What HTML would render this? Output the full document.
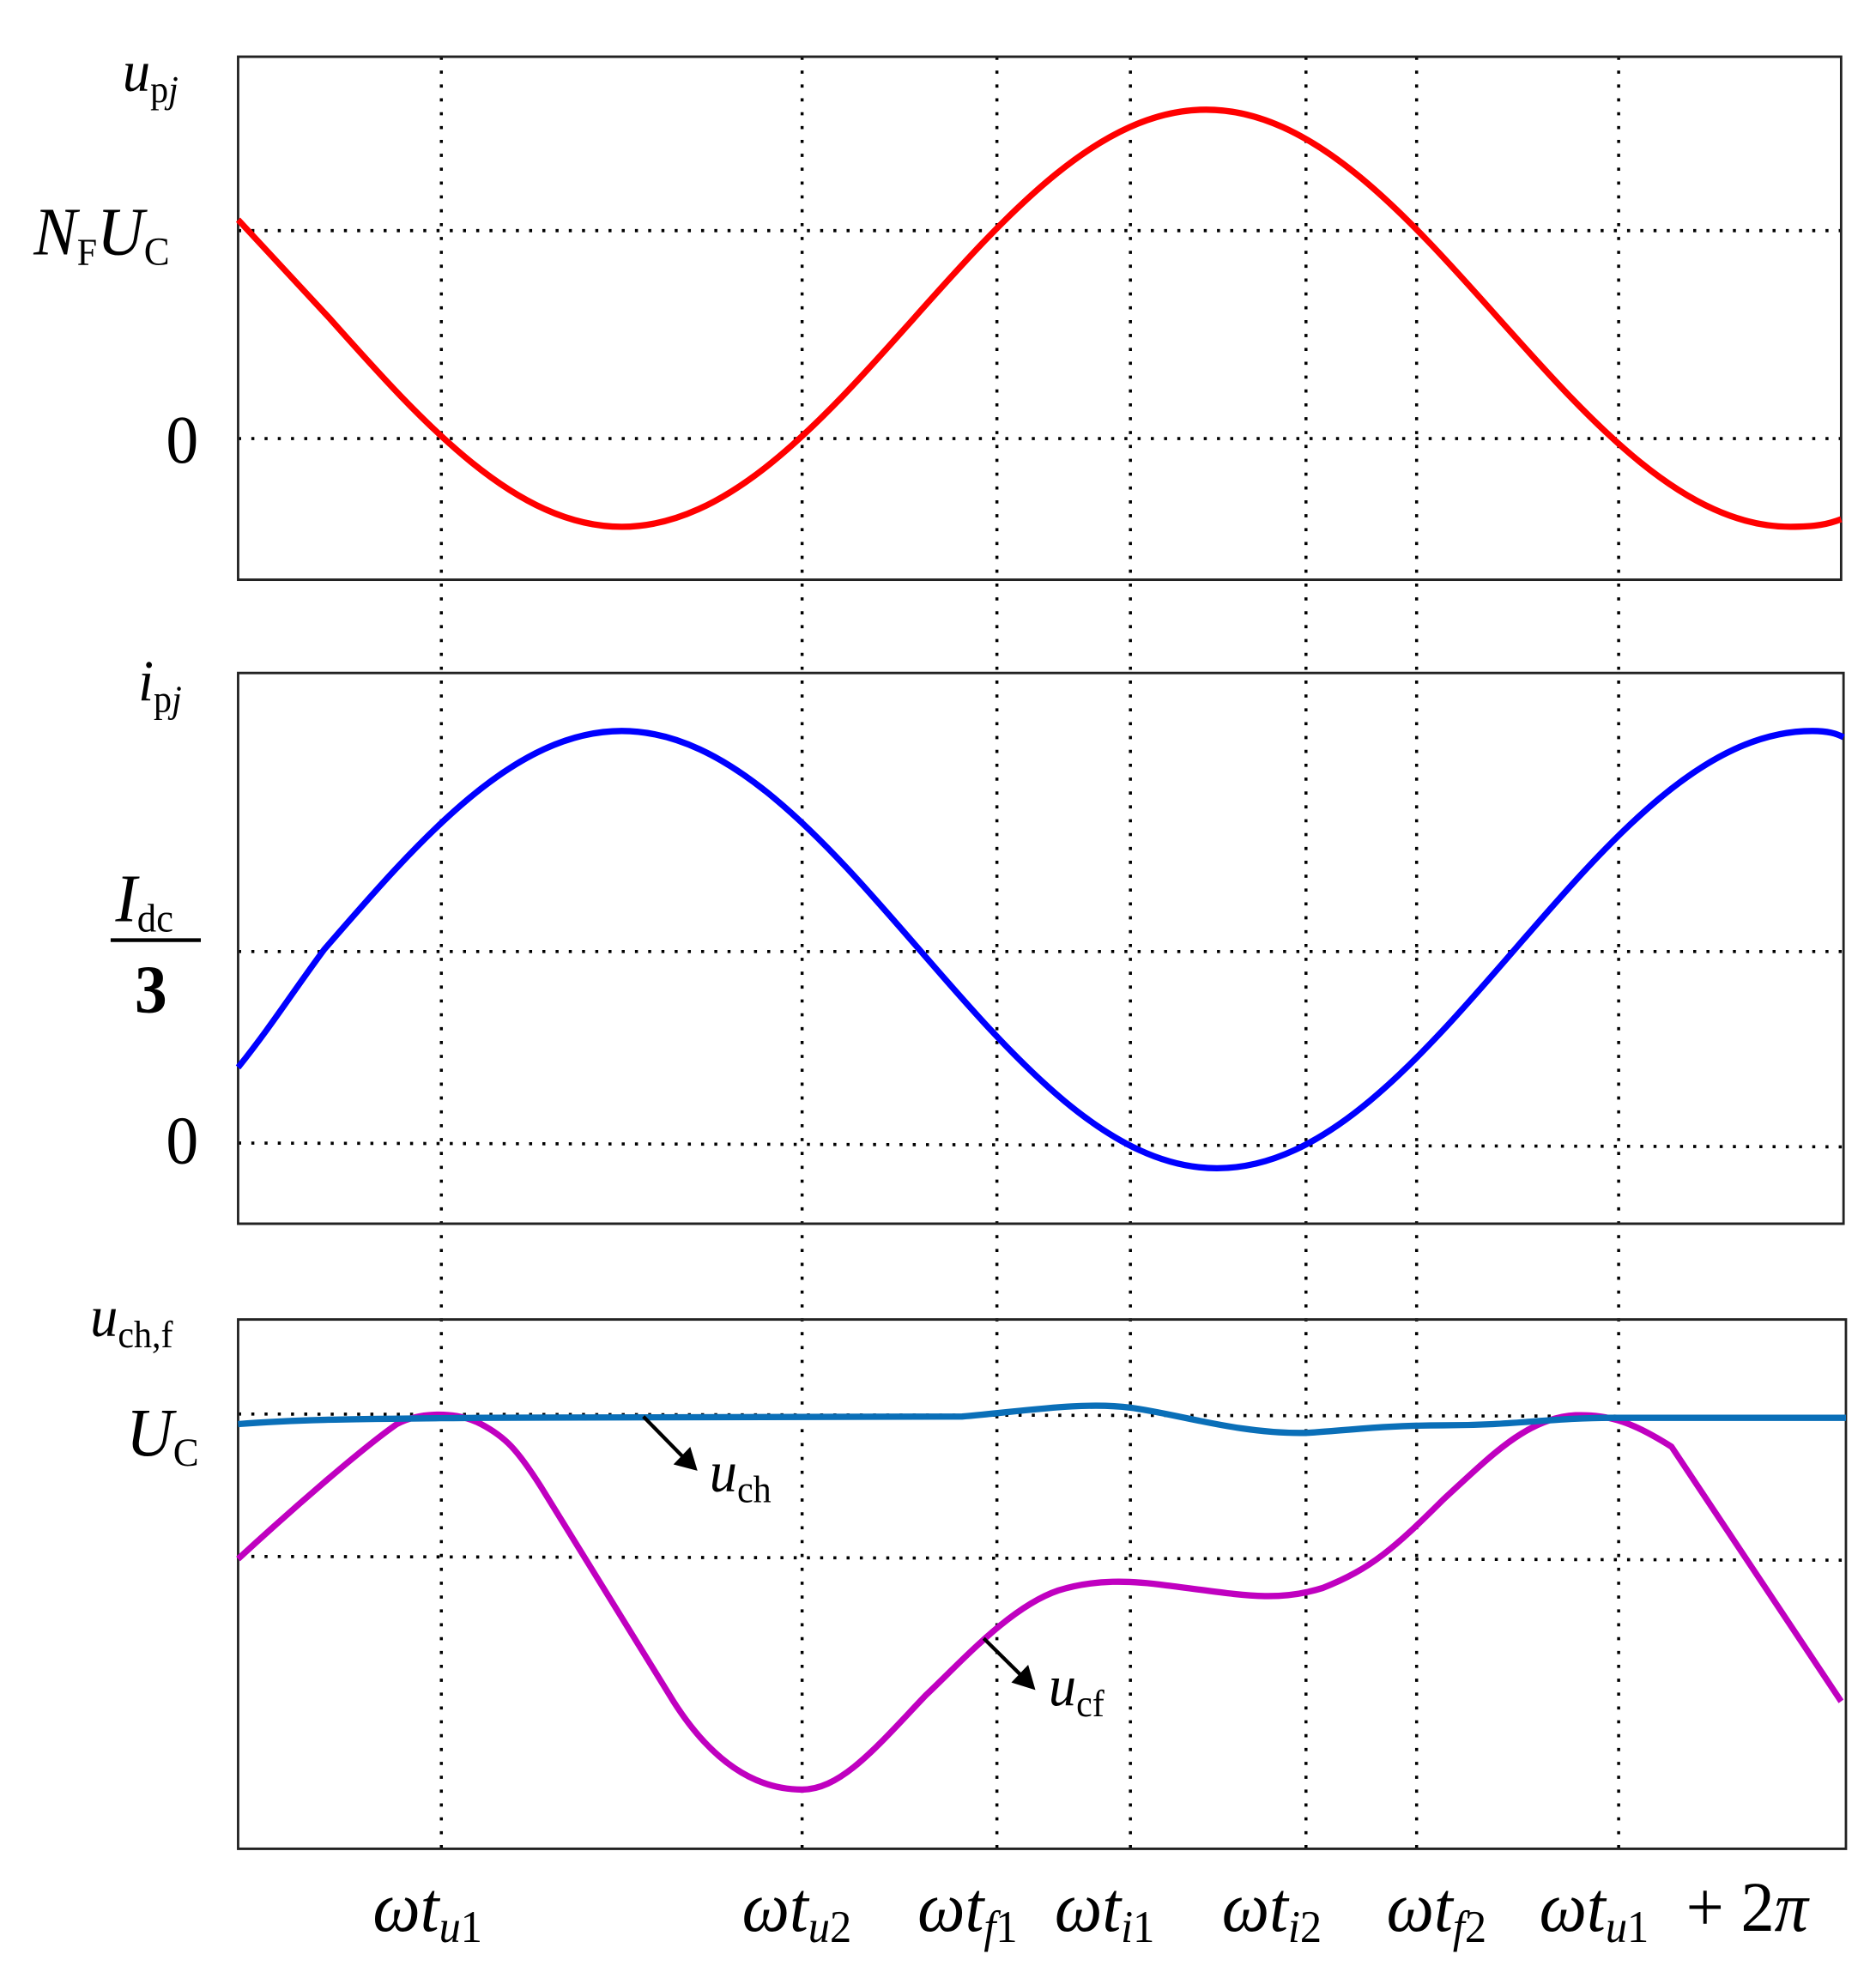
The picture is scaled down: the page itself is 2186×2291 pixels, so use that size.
<!DOCTYPE html>
<html><head><meta charset="utf-8"><style>
html,body{margin:0;padding:0;background:#fff;}
svg{display:block;}
text{font-family:"Liberation Serif",serif;fill:#000;}
.it{font-style:italic;}
</style></head><body>
<svg width="2186" height="2291" viewBox="0 0 1560 1560" preserveAspectRatio="none" xmlns="http://www.w3.org/2000/svg">
<g fill="none" stroke="#000" stroke-width="2.5" stroke-dasharray="2.5 8.5">
<line x1="367" y1="45" x2="367" y2="1467"/>
<line x1="667" y1="45" x2="667" y2="1467"/>
<line x1="829" y1="45" x2="829" y2="1467"/>
<line x1="940" y1="45" x2="940" y2="1467"/>
<line x1="1086" y1="45" x2="1086" y2="1467"/>
<line x1="1178" y1="45" x2="1178" y2="1467"/>
<line x1="1346" y1="45" x2="1346" y2="1467"/>
<line x1="198" y1="183" x2="1531" y2="183"/>
<line x1="198" y1="348" x2="1531" y2="348"/>
<line x1="198" y1="755" x2="1533" y2="755"/>
<line x1="198" y1="907" x2="1533" y2="910"/>
<line x1="198" y1="1122" x2="1535" y2="1124"/>
<line x1="198" y1="1235" x2="1535" y2="1238"/>
</g>
<g fill="none" stroke="#222" stroke-width="2">
<rect x="198" y="45" width="1333" height="415"/>
<rect x="198" y="534" width="1335" height="437"/>
<rect x="198" y="1047" width="1337" height="420"/>
</g>
<path fill="none" stroke="#f00" stroke-width="5" d="M198,174.4 L274,252.5 C353.2,337.3 429.4,418 517,418 C604.6,418 680.8,337.3 760,252.5 C839.2,167.7 915.4,87 1003,87 C1090.6,87 1166.8,167.7 1246,252.5 C1325.2,337.3 1401.4,418 1489,418 C1510,418 1520,416 1531,412"/>
<path fill="none" stroke="#00f" stroke-width="5" d="M198,847 C225,815 245,785 269.5,753.5 C350.2,664.6 427.8,580 517,580 C606.2,580 683.8,664.6 764.5,753.5 C845.2,842.4 922.8,927 1012,927 C1101.2,927 1178.8,842.4 1259.5,753.5 C1340.2,664.6 1417.8,580 1507,580 C1520,580 1527,582 1533,585"/>
<path fill="none" stroke="#c000c0" stroke-width="5" stroke-linejoin="round" d="M198,1237 C240,1200 300,1150 330,1130 C350,1120 380,1120 400,1130 C420,1140 430,1150 450,1180 L560,1350 C600,1410 640,1420 667,1420 C700,1420 730,1385 770,1345 C800,1318 840,1275 880,1262 C910,1253 940,1254 970,1258 C1030,1265 1060,1272 1100,1260 C1140,1245 1160,1228 1200,1190 C1240,1155 1270,1125 1310,1123 C1340,1122 1360,1130 1390,1148 L1531,1350"/>
<path fill="none" stroke="#0a6fb8" stroke-width="5" stroke-linejoin="round" d="M198,1130 C250,1126 300,1126 400,1125 L800,1124 C850,1120 900,1112 940,1117 C980,1122 1030,1138 1086,1137 C1120,1135 1150,1131 1200,1131 C1260,1131 1290,1125 1340,1125 L1535,1125"/>
<line x1="535" y1="1124" x2="572" y2="1160" stroke="#000" stroke-width="3"/>
<path d="M580,1167 L560,1162 L574,1148 z" fill="#000"/>
<line x1="818" y1="1300" x2="853" y2="1333" stroke="#000" stroke-width="3"/>
<path d="M861,1341 L841,1335 L855,1321 z" fill="#000"/>
<text x="102" y="72" font-size="46" class="it">u<tspan font-size="30" dy="9" font-style="normal">p</tspan><tspan font-size="30" class="it">j</tspan></text>
<text x="28" y="202" font-size="54" class="it">N<tspan font-size="30" dy="8" font-style="normal">F</tspan><tspan dy="-8">U</tspan><tspan font-size="32" dy="8" font-style="normal">C</tspan></text>
<text x="138" y="367" font-size="54">0</text>
<text x="115" y="556" font-size="46" class="it">i<tspan font-size="30" dy="9" font-style="normal">p</tspan><tspan font-size="30">j</tspan></text>
<text x="96" y="731" font-size="54" class="it">I<tspan font-size="32" dy="8" font-style="normal">dc</tspan></text>
<line x1="92" y1="746" x2="167" y2="746" stroke="#000" stroke-width="3"/>
<text x="112" y="803" font-size="54" font-weight="bold">3</text>
<text x="138" y="923" font-size="54">0</text>
<text x="75" y="1060" font-size="46" class="it">u<tspan font-size="30" dy="9" font-style="normal">ch,f</tspan></text>
<text x="105" y="1155" font-size="54" class="it">U<tspan font-size="32" dy="8" font-style="normal">C</tspan></text>
<text x="590" y="1183" font-size="46" class="it">u<tspan font-size="30" dy="9" font-style="normal">ch</tspan></text>
<text x="872" y="1353" font-size="46" class="it">u<tspan font-size="30" dy="9" font-style="normal">cf</tspan></text>
<g font-size="56">
<text x="310" y="1532" class="it">ωt<tspan font-size="36" dy="9">u</tspan><tspan font-size="36" font-style="normal">1</tspan></text>
<text x="617" y="1532" class="it">ωt<tspan font-size="36" dy="9">u</tspan><tspan font-size="36" font-style="normal">2</tspan></text>
<text x="763" y="1532" class="it">ωt<tspan font-size="36" dy="9">f</tspan><tspan font-size="36" font-style="normal">1</tspan></text>
<text x="877" y="1532" class="it">ωt<tspan font-size="36" dy="9">i</tspan><tspan font-size="36" font-style="normal">1</tspan></text>
<text x="1016" y="1532" class="it">ωt<tspan font-size="36" dy="9">i</tspan><tspan font-size="36" font-style="normal">2</tspan></text>
<text x="1153" y="1532" class="it">ωt<tspan font-size="36" dy="9">f</tspan><tspan font-size="36" font-style="normal">2</tspan></text>
<text x="1280" y="1532" class="it">ωt<tspan font-size="36" dy="9">u</tspan><tspan font-size="36" font-style="normal">1</tspan></text>
<text x="1402" y="1532">+ 2<tspan class="it">π</tspan></text>
</g>
</svg>
</body></html>
